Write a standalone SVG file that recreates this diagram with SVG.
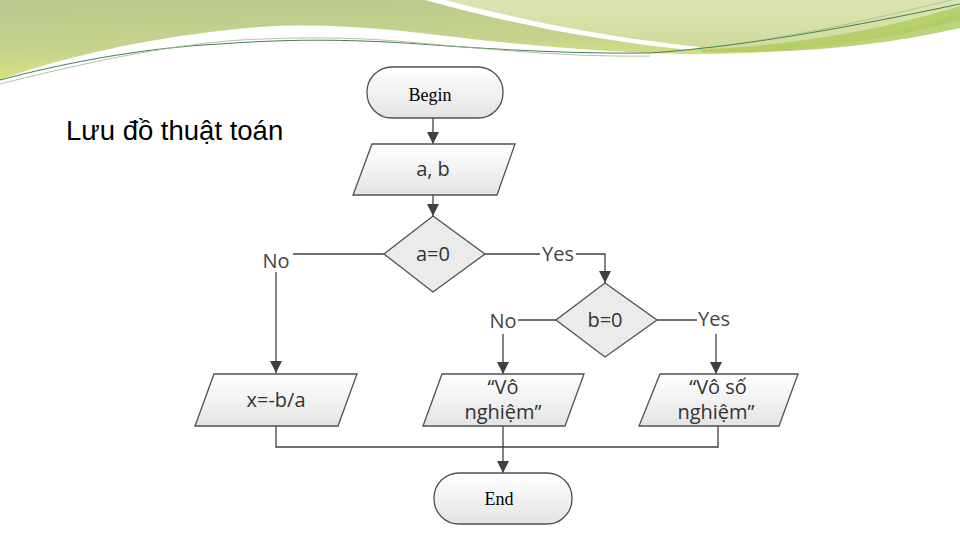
<svg xmlns="http://www.w3.org/2000/svg" width="960" height="540" viewBox="0 0 960 540">
<defs>
<linearGradient id="gA" x1="0" y1="0" x2="0.3" y2="1">
<stop offset="0" stop-color="#b9c98f"/><stop offset="0.6" stop-color="#c6d38c"/><stop offset="1" stop-color="#e0e679"/>
</linearGradient>
<linearGradient id="gB" x1="0" y1="0" x2="0" y2="1">
<stop offset="0" stop-color="#dbe4b2"/><stop offset="1" stop-color="#cfdc9c"/>
</linearGradient>
<linearGradient id="gN" x1="0" y1="0" x2="0" y2="1">
<stop offset="0" stop-color="#ffffff"/><stop offset="1" stop-color="#e4e4e4"/>
</linearGradient>
<marker id="ar" markerWidth="12" markerHeight="12" refX="10" refY="5" orient="auto" markerUnits="userSpaceOnUse" viewBox="0 0 10 10">
<path d="M0,0 L10,5 L0,10 Z" fill="#404040"/>
</marker>
<style>
.sh{fill:url(#gN);stroke:#505050;stroke-width:1.3}
.dm{fill:#ebebeb;stroke:#505050;stroke-width:1.3}
.t{font-family:"Open Sans","Liberation Sans",sans-serif;font-size:20px;fill:#333;text-anchor:middle}
.s{font-family:"Liberation Serif","DejaVu Serif",serif;font-weight:normal;font-size:18px;fill:#000;text-anchor:middle}
.ln{fill:none;stroke:#404040;stroke-width:1.3}
.lb{font-family:"Open Sans","Liberation Sans",sans-serif;font-size:20px;fill:#444;text-anchor:middle}
</style>
</defs>
<rect width="960" height="540" fill="#fff"/>
<g id="header">
<path d="M0,0 H960 V20 C880,42 780,56 680,54 C600,52 540,46 480,40 C400,30 330,22 260,27 C150,36 60,58 0,80 Z" fill="url(#gA)"/>
<path d="M440,0 H960 V12 C900,36 800,50 700,47 C610,38 530,22 440,0 Z" fill="url(#gB)"/>
<path d="M425,0 L445,0 C530,22 610,38 700,47 L690,50 C600,41 515,25 425,0 Z" fill="#fff"/>
<path d="M700,50 C800,45 890,28 960,6 V28 C880,46 800,54 700,52 Z" fill="#b2cb62" opacity="0.85"/>
<path d="M0,80 C60,64 140,48 220,44 C300,38 360,40 420,44 C500,50 580,54 650,53 C750,46 860,25 960,4" fill="none" stroke="#3f7f5a" stroke-width="1"/>
<path d="M0,84 C80,64 160,46 240,40 C320,36 370,38 430,44 C520,52 580,57 650,56" fill="none" stroke="#a8b08a" stroke-width="0.8"/>
<path d="M760,40 C840,28 900,12 960,-2" fill="none" stroke="#a9b590" stroke-width="0.7"/>
</g>
<text x="66" y="140" font-family="Liberation Sans, Arial, sans-serif" font-size="27.5" fill="#000">Lưu đồ thuật toán</text>
<g id="connectors">
<line class="ln" x1="433" y1="118" x2="433" y2="144" marker-end="url(#ar)"/>
<line class="ln" x1="433" y1="195" x2="433" y2="216" marker-end="url(#ar)"/>
<polyline class="ln" points="384,254 293,254"/>
<polyline class="ln" points="276,272 276,373" marker-end="url(#ar)"/>
<line class="ln" x1="485" y1="254" x2="540" y2="254"/>
<polyline class="ln" points="576,254 605,254 605,283" marker-end="url(#ar)"/>
<line class="ln" x1="556" y1="320" x2="518" y2="320"/>
<line class="ln" x1="503" y1="334" x2="503" y2="374" marker-end="url(#ar)"/>
<line class="ln" x1="657" y1="320" x2="697" y2="320"/>
<line class="ln" x1="716" y1="334" x2="716" y2="374" marker-end="url(#ar)"/>
<polyline class="ln" points="276,426 276,447 718,447 718,426"/>
<line class="ln" x1="503" y1="426" x2="503" y2="473" marker-end="url(#ar)"/>
<text class="lb" x="276" y="268">No</text>
<text class="lb" x="558" y="261">Yes</text>
<text class="lb" x="503" y="328">No</text>
<text class="lb" x="714" y="326">Yes</text>
</g>
<g id="begin">
<rect class="sh" x="367" y="67" width="136" height="51" rx="25"/>
<text class="s" x="430" y="101">Begin</text>
</g>
<g id="input">
<polygon class="sh" points="372,144 515,144 497,195 353,195"/>
<text class="t" x="433" y="176">a, b</text>
</g>
<g id="cond-a">
<polygon class="dm" points="433,216 485,254 433,292 384,254"/>
<text class="t" x="433" y="261">a=0</text>
</g>
<g id="cond-b">
<polygon class="dm" points="605,283 657,320 605,357 556,320"/>
<text class="t" x="605" y="327">b=0</text>
</g>
<g id="out1">
<polygon class="sh" points="214,374 357,374 338,426 195,426"/>
<text class="t" x="276" y="407">x=-b/a</text>
</g>
<g id="out2">
<polygon class="sh" points="442,374 584,374 565,426 423,426"/>
<text class="t" x="503" y="394">“Vô</text>
<text class="t" x="503" y="419">nghiệm”</text>
</g>
<g id="out3">
<polygon class="sh" points="660,374 798,374 779,426 639,426"/>
<text class="t" x="718" y="394">“Vô số</text>
<text class="t" x="716" y="419">nghiệm”</text>
</g>
<g id="end">
<rect class="sh" x="434" y="473" width="138" height="51" rx="25"/>
<text class="s" x="499" y="505">End</text>
</g>
</svg>
